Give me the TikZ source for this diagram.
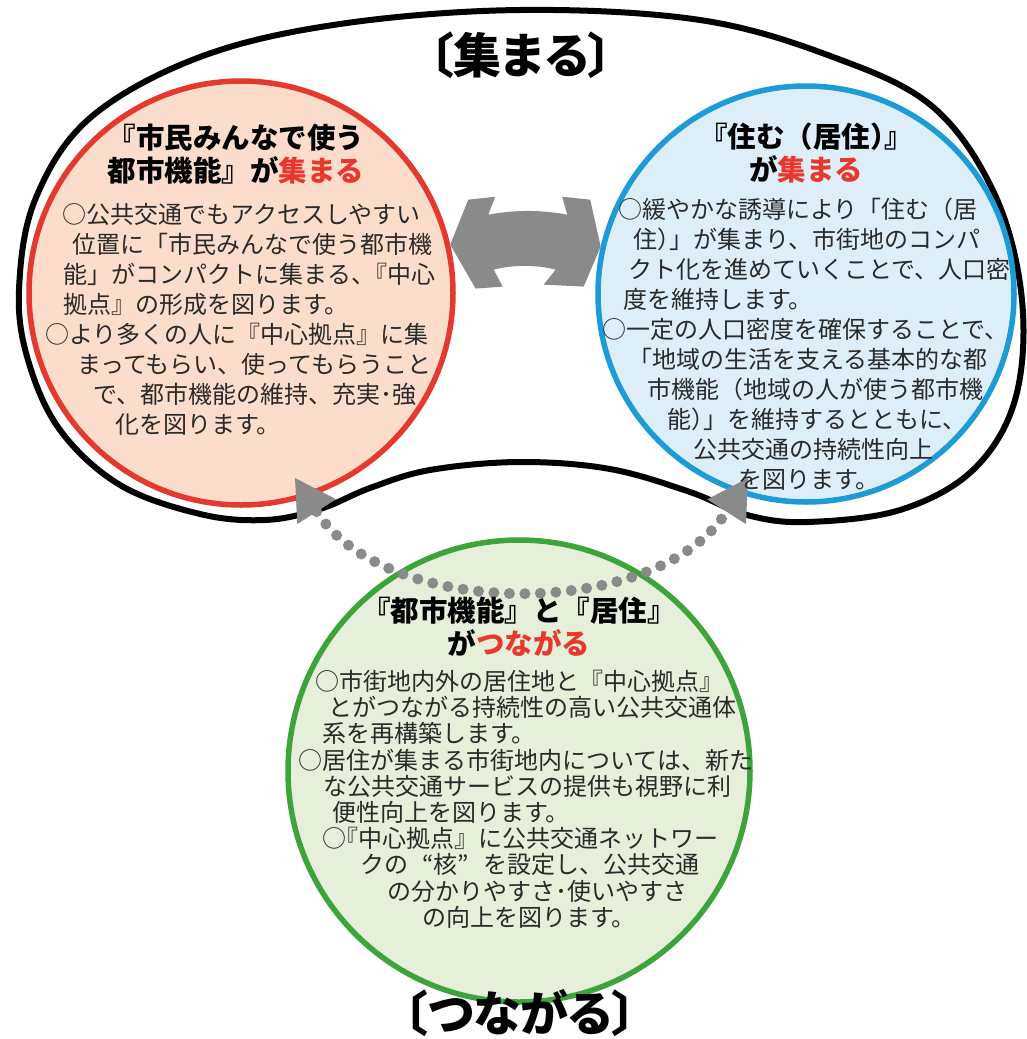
\documentclass[tikz,border=0pt]{standalone}
\usepackage{fontspec}
\setmainfont{Noto Sans CJK JP}
\newfontfamily\labelfont[RawFeature=+palt]{Noto Sans CJK JP}
\usepackage{xcolor}
\usetikzlibrary{arrows.meta}

\definecolor{civicline}{HTML}{E4392E}
\definecolor{civicfill}{HTML}{FCDDCC}
\definecolor{livingline}{HTML}{1D9BD7}
\definecolor{livingfill}{HTML}{DDEEF9}
\definecolor{transitline}{HTML}{3DA43B}
\definecolor{transitfill}{HTML}{E6EFDA}
\definecolor{arrowgray}{HTML}{8A8A8A}
\definecolor{accent}{HTML}{E8382E}
\definecolor{bodyink}{HTML}{2A2A2A}

% closes up two brackets in a row
\newcommand{\pkern}{\kern-.5em}

\tikzset{
  zone/.style={circle, line width=5.5pt, inner sep=0pt},
  heading/.style={font=\bfseries\fontsize{28.5}{33}\selectfont, align=center, inner sep=0pt},
  bodytext/.style={font=\fontsize{24}{30}\selectfont, text=bodyink, align=left, inner sep=0pt, anchor=north west},
  bigarrow/.style={fill=arrowgray},
  dotlink/.style={draw=arrowgray, line width=11pt, line cap=round, dash pattern=on 0pt off 15.5pt,
    {Triangle[length=40pt,width=46pt,line width=0pt]}-{Triangle[length=40pt,width=46pt,line width=0pt]}},
  grouplabel/.style={font=\labelfont\bfseries\fontsize{48}{48}\selectfont, inner sep=0pt}
}

\begin{document}
\begin{tikzpicture}[x=1pt,y=-1pt]
		\useasboundingbox (0,0) rectangle (1027,1039);
		\fill[white] (0,0) rectangle (1027,1039);
		% Outer outline round the two gathering circles
		\draw[line width=6pt] plot[smooth cycle, tension=0.6] coordinates {
			(520,10) (700,20) (833,57) (933,107) (995,195) (1022,300) (1015,400) (973,470)
			(900,510) (807,522) (747,515) (690,492) (610,469) (520,462) (430,470) (370,488)
			(320,509) (265,520) (200,514) (120,485) (60,430) (28,360) (19,290) (35,200)
			(90,118) (200,57) (340,24)};
		% Circles
		\node[zone, draw=civicline, fill=civicfill, minimum size=424pt] (civic) at (241,293) {};
		\node[zone, draw=livingline, fill=livingfill, minimum size=416pt] (living) at (806,294) {};
		\node[zone, draw=transitline, fill=transitfill, minimum size=462pt] (transit) at (519,771) {};
		% Double arrow between the two upper circles
		\fill[bigarrow] (civic.13) -- ++(18,-45) -- ++(27,-3) -- ++(-7,18)
			.. controls +(27,-5) and +(-27,-5) .. ++(79,0)
			-- ++(-5,-18) -- ++(28,3) -- (living.167)
			-- ++(-17,40) -- ++(-40,-2) -- ++(12,-15)
			.. controls +(-20,-5) and +(20,-5) .. ++(-62,0)
			-- ++(9,17) -- ++(-27,2) -- cycle;
		% Dotted link from the lower circle
		\coordinate (tipL) at (295,478);
		\coordinate (tipR) at (748,478);
		\draw[dotlink] (tipL) .. controls (387,621) and (657,621) .. (tipR);
		% Headings
		\node[heading] (civichead) at (236,154) {『市民みんなで使う\\都市機能』が\textcolor{accent}{集まる}};
		\node[heading] (livinghead) at (806,153) {『住む（居住）\pkern』\\が\textcolor{accent}{集まる}};
		\node[heading] (transithead) at (519,627) {『都市機能』と『居住』\\が\textcolor{accent}{つながる}};
		% Texts
		\node[bodytext] (civictext) at (45,203) {\hspace*{17pt}○公共交通でもアクセスしやすい\\
			\hspace*{27pt}位置に「市民みんなで使う都市機\\
			\hspace*{18pt}能」がコンパクトに集まる、\pkern『中心\\
			\hspace*{18pt}拠点』の形成を図ります。\\
			○より多くの人に『中心拠点』に集\\
			\hspace*{32pt}まってもらい、使ってもらうこと\\
			\hspace*{48pt}で、都市機能の維持、充実･強\\
			\hspace*{70pt}化を図ります。};
		\node[bodytext] (livingtext) at (602,198) {\hspace*{16pt}○緩やかな誘導により「住む（居\\
			\hspace*{31pt}住）\pkern」が集まり、市街地のコンパ\\
			\hspace*{26pt}クト化を進めていくことで、人口密\\
			\hspace*{21pt}度を維持します。\\
			○一定の人口密度を確保することで、\\
			\hspace*{26pt}「地域の生活を支える基本的な都\\
			\hspace*{45pt}市機能（地域の人が使う都市機\\
			\hspace*{65pt}能）\pkern」を維持するとともに、\\
			\hspace*{91pt}公共交通の持続性向上\\
			\hspace*{136pt}を図ります。};
		\node[bodytext, font=\fontsize{24}{26.2}\selectfont] (transittext) at (298,670) {\hspace*{17pt}○市街地内外の居住地と『中心拠点』\\
			\hspace*{30pt}とがつながる持続性の高い公共交通体\\
			\hspace*{24pt}系を再構築します。\\
			○居住が集まる市街地内については、新た\\
			\hspace*{25pt}な公共交通サービスの提供も視野に利\\
			\hspace*{34pt}便性向上を図ります。\\
			\hspace*{24pt}○\pkern『中心拠点』に公共交通ネットワー\\
			\hspace*{62pt}クの\hspace{.6em}“核”\hspace{.6em}を設定し、公共交通\\
			\hspace*{89pt}の分かりやすさ･使いやすさ\\
			\hspace*{124pt}の向上を図ります。};
		% Group labels
		\node[grouplabel] (gatherlabel) at (521,55) {〔集まる〕};
		\node[grouplabel] (linklabel) at (520,1013) {〔つながる〕};
\end{tikzpicture}
\end{document}
